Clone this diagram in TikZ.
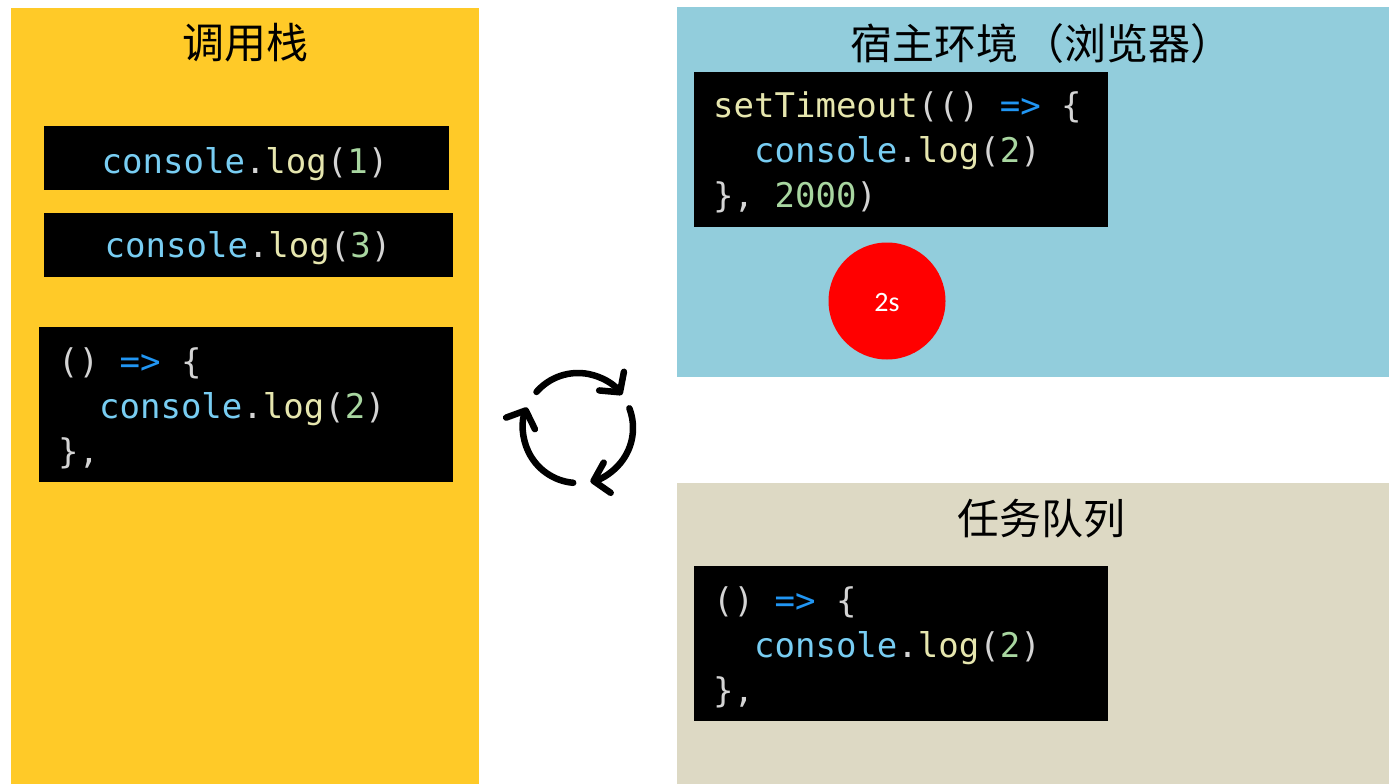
\documentclass[tikz,border=0pt]{standalone}
\usepackage{fontspec}
\setmonofont{DejaVu Sans Mono}
\newfontfamily\cjkfont{Noto Sans CJK SC}
\newfontfamily\labelfont{Carlito}
\usetikzlibrary{arrows.meta}

% panel colours
\definecolor{stackbg}{HTML}{FFCA28}
\definecolor{hostbg}{HTML}{92CDDC}
\definecolor{queuebg}{HTML}{DDD9C4}
% syntax colours
\definecolor{jsvar}{HTML}{78CDF2}
\definecolor{jsfun}{HTML}{E6E6AE}
\definecolor{jsnum}{HTML}{A8D6A0}
\definecolor{jspun}{HTML}{D4D4D4}
\definecolor{jsarr}{HTML}{2196F3}

\newcommand\jsv[1]{\textcolor{jsvar}{#1}}
\newcommand\jsf[1]{\textcolor{jsfun}{#1}}
\newcommand\jsn[1]{\textcolor{jsnum}{#1}}
\newcommand\jsp[1]{\textcolor{jspun}{#1}}
\newcommand\jsa[1]{\textcolor{jsarr}{#1}}
\newcommand\logcall[1]{\jsv{console}\jsp{.}\jsf{log}\jsp{(}\jsn{#1}\jsp{)}}

\tikzset{
  panel/.style={anchor=north west, inner sep=0, outer sep=0},
  codebox/.style={anchor=north west, fill=black, inner sep=0, outer sep=0},
  codeline/.style={anchor=base west, inner sep=0, font=\fontsize{34}{40}\selectfont\ttfamily},
  codecentre/.style={codeline, anchor=base},
  title/.style={inner sep=0, font=\fontsize{42}{48}\selectfont\cjkfont, text=black},
  cyclearrow/.style={line width=6.5pt, line cap=round,
    -{Straight Barb[length=14pt, width=31pt, round]}},
}

\begin{document}
\begin{tikzpicture}[x=1pt, y=-1pt]
\useasboundingbox (0,0) rectangle (1389,784);
\fill[white] (0,0) rectangle (1389,784);

% three areas
\node[panel, fill=stackbg, minimum width=468, minimum height=776] (stack) at (11,8) {};
\node[panel, fill=hostbg, minimum width=712, minimum height=370] (host) at (677,7) {};
\node[panel, fill=queuebg, minimum width=712, minimum height=301] (queue) at (677,483) {};

\node[title] (stacktitle) at (245,43) {调用栈};
\node[title] (hosttitle) at (1041,44) {宿主环境\hspace{4pt}（浏览器）\hspace{4pt}};
\node[title] (queuetitle) at (1041,519) {任务队列};

% call stack
\node[codebox, minimum width=405, minimum height=64] (log1) at (44,126) {};
\node[codecentre] (log1txt) at (245,173) {\logcall{1}};
\node[codebox, minimum width=409, minimum height=64] (log3) at (44,213) {};
\node[codecentre] (log3txt) at (248,257) {\logcall{3}};
\node[codebox, minimum width=414, minimum height=155] (cb) at (39,327) {};
\node[codeline] (cbl1) at (58,373) {\jsp{()} \jsa{=>} \jsp{\{}};
\node[codeline] (cbl2) at (58,418) {\hphantom{xx}\logcall{2}};
\node[codeline] (cbl3) at (58,463) {\jsp{\},}};

% host environment
\node[codebox, minimum width=414, minimum height=155] (timeout) at (694,72) {};
\node[codeline] (tol1) at (713,117) {\jsf{setTimeout}\jsp{(()} \jsa{=>} \jsp{\{}};
\node[codeline] (tol2) at (713,162) {\hphantom{xx}\logcall{2}};
\node[codeline] (tol3) at (713,207) {\jsp{\},} \jsn{2000}\jsp{)}};
\node[circle, fill=red, minimum size=117, inner sep=0] (timer) at (887,301) {};
\node[text=white, inner sep=0, font=\fontsize{28}{32}\selectfont\labelfont]
      (timerlabel) at (887,303) {2s};

% task queue
\node[codebox, minimum width=414, minimum height=155] (task) at (694,566) {};
\node[codeline] (tql1) at (713,612) {\jsp{()} \jsa{=>} \jsp{\{}};
\node[codeline] (tql2) at (713,657) {\hphantom{xx}\logcall{2}};
\node[codeline] (tql3) at (713,702) {\jsp{\},}};

% event loop
\coordinate (loop) at (578,428);
\draw[cyclearrow] ([shift={(-139:55)}]loop) arc[start angle=-139, end angle=-37, radius=55];
\draw[cyclearrow] ([shift={(-21:55)}]loop) arc[start angle=-21, end angle=77, radius=55];
\draw[cyclearrow] ([shift={(95:55)}]loop) arc[start angle=95, end angle=202, radius=55];
\end{tikzpicture}
\end{document}
